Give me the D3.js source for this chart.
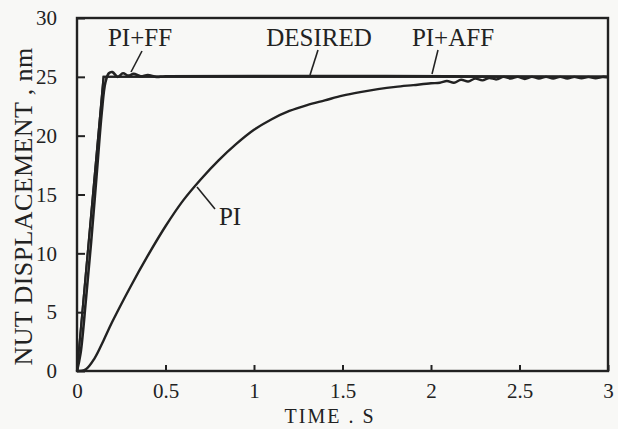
<!DOCTYPE html>
<html>
<head>
<meta charset="utf-8">
<script src="https://cdn.jsdelivr.net/npm/d3@7"></script>
<style>
  body { margin: 0; background: #f8f8f6; }
  svg { display: block; }
</style>
</head>
<body>
<div id="graph"></div>
<script>
// axis ticks
var xTicks = [0, 0.5, 1, 1.5, 2, 2.5, 3];
var yTicks = [0, 5, 10, 15, 20, 25, 30];
var xTickLabels = ['0', '0.5', '1', '1.5', '2', '2.5', '3'];
var yTickLabels = ['0', '5', '10', '15', '20', '25', '30'];

// desired trajectory (ramp then hold)
var desiredT = [0, 0.15, 3];
var desiredV = [0, 25, 25];

// PI + adaptive feed forward, lies on top of desired
var piAffT = [0, 0.15, 3];
var piAffV = [0, 25, 25];

// PI + feed forward
var piFfT = [0, 0.02, 0.05, 0.08, 0.11, 0.14, 0.16, 0.18, 0.2, 0.23, 0.26, 0.29, 0.32, 0.36, 0.4, 0.45, 0.5, 3];
var piFfV = [0, 1.5, 6, 11, 16.5, 22, 24.5, 25.3, 25.4, 25.0, 25.3, 25.1, 25.25, 25.05, 25.15, 25.0, 25.05, 25.0];

// PI only
var piT = [0, 0.05, 0.1, 0.15, 0.2, 0.3, 0.4, 0.5, 0.6, 0.7, 0.8, 0.9, 1.0, 1.1, 1.2, 1.3, 1.4, 1.5, 1.6, 1.7, 1.8, 1.9, 2.0,
  2.05, 2.09, 2.13, 2.17, 2.21, 2.25, 2.29, 2.33, 2.37, 2.41, 2.45, 2.49, 2.53, 2.57, 2.61, 2.65, 2.69, 2.73, 2.77, 2.81, 2.85, 2.89, 2.93, 2.97, 3.0];
var piV = [0, 0.15, 1.1, 2.6, 4.2, 7.1, 9.8, 12.3, 14.5, 16.3, 17.9, 19.3, 20.5, 21.4, 22.1, 22.6, 23.0, 23.4, 23.7, 23.95, 24.15, 24.3, 24.45,
  24.5, 24.65, 24.5, 24.75, 24.6, 24.85, 24.7, 24.9, 24.78, 25.0, 24.85, 25.0, 24.82, 25.0, 24.85, 25.0, 24.85, 25.0, 24.85, 25.0, 24.88, 25.0, 24.88, 25.0, 24.95];

var width = 618;
var height = 429;
var margin = { top: 18, right: 10, bottom: 58, left: 77 };
var ink = '#222';
// times-like face
var serif = "'Liberation Serif', 'Times New Roman', Tinos, 'DejaVu Serif', serif";

var svg = d3.select('#graph')
  .append('svg')
  .attr('width', width)
  .attr('height', height);

var x = d3.scaleLinear().domain([0, 3]).range([margin.left, width - margin.right]);
var y = d3.scaleLinear().domain([0, 30]).range([height - margin.bottom, margin.top]);

// axes with inward ticks
var xAxis = svg.append('g')
  .attr('transform', 'translate(0,' + y(0) + ')')
  .call(d3.axisBottom(x).tickValues(xTicks).tickFormat(function(d, i) { return xTickLabels[i]; })
    .tickSize(-6).tickPadding(12));

var yAxis = svg.append('g')
  .attr('transform', 'translate(' + x(0) + ',0)')
  .call(d3.axisLeft(y).tickValues(yTicks).tickFormat(function(d, i) { return yTickLabels[i]; })
    .tickSize(-8).tickPadding(20));

[xAxis, yAxis].forEach(function(g) {
  g.attr('font-size', 21);
  g.select('.domain').remove();
  g.selectAll('line').attr('stroke', ink).attr('stroke-width', 2);
  g.selectAll('text').attr('fill', ink).style('font-family', serif);
});

// frame
svg.append('rect')
  .attr('x', x(0)).attr('y', y(30))
  .attr('width', x(3) - x(0)).attr('height', y(0) - y(30))
  .attr('fill', 'none').attr('stroke', ink).attr('stroke-width', 2.4);

// curves
var line = d3.line()
  .x(function(d) { return x(d[0]); })
  .y(function(d) { return y(d[1]); });

function series(ts, vs) {
  return ts.map(function(t, i) { return [t, vs[i]]; });
}

svg.append('path')
  .attr('d', line.curve(d3.curveLinear)(series(desiredT, desiredV)))
  .attr('fill', 'none').attr('stroke', ink).attr('stroke-width', 2);

svg.append('path')
  .attr('d', line.curve(d3.curveLinear)(series(piAffT, piAffV)))
  .attr('fill', 'none').attr('stroke', ink).attr('stroke-width', 2);

svg.append('path')
  .attr('d', line.curve(d3.curveCatmullRom)(series(piFfT, piFfV)))
  .attr('fill', 'none').attr('stroke', ink).attr('stroke-width', 2.6);

svg.append('path')
  .attr('d', line.curve(d3.curveCatmullRom)(series(piT, piV)))
  .attr('fill', 'none').attr('stroke', ink).attr('stroke-width', 2.4);

// annotations with leader lines
var notes = [
  { text: 'PI+FF', tx: 140, ty: 46, x1: 142, y1: 51, x2: 131, y2: 72 },
  { text: 'DESIRED', tx: 319, ty: 46, x1: 318, y1: 50, x2: 310, y2: 75 },
  { text: 'PI+AFF', tx: 453, ty: 46, x1: 438, y1: 50, x2: 432, y2: 74 },
  { text: 'PI', tx: 230, ty: 225, x1: 197, y1: 187, x2: 215, y2: 209 }
];

notes.forEach(function(n) {
  svg.append('text')
    .attr('x', n.tx).attr('y', n.ty)
    .attr('text-anchor', 'middle')
    .style('font-family', serif)
    .attr('font-size', 25)
    .attr('fill', ink)
    .text(n.text);
  svg.append('line')
    .attr('x1', n.x1).attr('y1', n.y1).attr('x2', n.x2).attr('y2', n.y2)
    .attr('stroke', ink).attr('stroke-width', 1.6);
});

// axis titles
svg.append('text')
  .attr('x', 330).attr('y', 423)
  .attr('text-anchor', 'middle')
  .style('font-family', serif)
  .style('letter-spacing', '2px')
  .attr('font-size', 20)
  .attr('fill', ink)
  .text('TIME . S');

svg.append('text')
  .attr('transform', 'translate(32,' + ((y(0) + y(30)) / 2 + 12) + ') rotate(-90)')
  .attr('text-anchor', 'middle')
  .style('font-family', serif)
  .style('letter-spacing', '0.4px')
  .attr('font-size', 26)
  .attr('fill', ink)
  .text('NUT DISPLACEMENT  ,  nm');
</script>
</body>
</html>
